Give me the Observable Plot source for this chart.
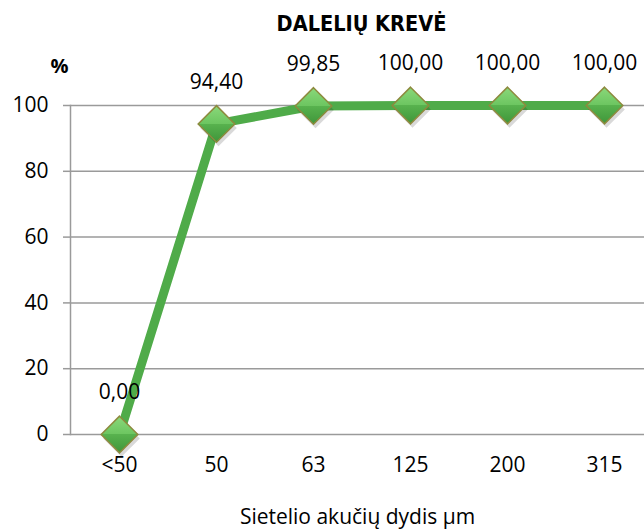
<!DOCTYPE html>
<html>
<head>
<meta charset="utf-8">
<script src="https://cdn.jsdelivr.net/npm/d3@7"></script>
<script src="https://cdn.jsdelivr.net/npm/@observablehq/plot@0.6"></script>
<style>
  body { margin: 0; background: #fff; }
  #chart svg { display: block; }
</style>
</head>
<body>
<div id="chart"></div>
<script>
const categories = ["<50", "50", "63", "125", "200", "315"];
const values = [0, 94.40, 99.85, 100, 100, 100];
const valueLabels = ["0,00", "94,40", "99,85", "100,00", "100,00", "100,00"];
const yTicks = [0, 20, 40, 60, 80, 100];
const title = "DALELIŲ KREVĖ";
const yUnit = "%";
const xTitle = "Sietelio akučių dydis µm";

const data = categories.map((c, i) => ({cat: c, v: values[i], label: valueLabels[i]}));
const font = "'Open Sans', 'DejaVu Sans', sans-serif";

const chart = Plot.plot({
  width: 644,
  height: 530,
  marginTop: 105,
  marginBottom: 96,
  marginLeft: 70,
  marginRight: 0,
  style: {fontFamily: font, fontSize: "21px", color: "#000", background: "#fff"},
  x: {type: "point", domain: categories, range: [70, 652], padding: 0.5, label: null},
  y: {domain: [0, 100], ticks: yTicks, label: null},
  marks: [
    Plot.ruleY(yTicks, {stroke: "#9a9a9a", strokeWidth: 1.5}),
    Plot.frame({anchor: "left", stroke: "#9a9a9a", strokeWidth: 1.5}),
    Plot.axisY({ticks: yTicks, tickSize: 7, tickPadding: 15, stroke: "#9a9a9a", strokeWidth: 1.5, fontSize: 21, label: null}),
    Plot.axisX({tickSize: 0, tickPadding: 23, fontSize: 21, label: null}),
    Plot.line(data, {x: "cat", y: "v", stroke: "#4fab49", strokeWidth: 9, strokeLinejoin: "miter"}),
    Plot.dot(data, {x: "cat", y: "v", symbol: "diamond2", r: 16.5, fill: "rgba(0,0,0,0.15)", stroke: "none", dx: 2, dy: 4}),
    Plot.dot(data, {x: "cat", y: "v", symbol: "diamond2", r: 16.5, fill: "url(#diamGrad)", stroke: "#8d8a3e", strokeWidth: 1.5}),
    Plot.text(data, {x: "cat", y: "v", text: "label", dy: -42, fontSize: 21, fill: "#000"}),
    Plot.text([title], {frameAnchor: "top", lineAnchor: "middle", dx: 4, dy: -81, fontSize: 21.5, fontWeight: "bold", fontFamily: "'Liberation Sans Narrow', 'DejaVu Sans Condensed', sans-serif", fill: "#000"}),
    Plot.text([yUnit], {frameAnchor: "top-left", textAnchor: "middle", lineAnchor: "middle", dx: -11, dy: -39, fontSize: 20, fontWeight: "bold", fill: "#000"}),
    Plot.text([xTitle], {frameAnchor: "bottom", lineAnchor: "middle", dy: 83, fontSize: 21, fill: "#000"})
  ]
});

// gradient for diamond markers
const svgNS = "http://www.w3.org/2000/svg";
const defs = document.createElementNS(svgNS, "defs");
defs.innerHTML = `<linearGradient id="diamGrad" x1="0" y1="0" x2="0" y2="1">
  <stop offset="0" stop-color="#8ad87a"/>
  <stop offset="0.5" stop-color="#6cc560"/>
  <stop offset="0.5" stop-color="#58b24e"/>
  <stop offset="1" stop-color="#3f963a"/>
</linearGradient>`;
chart.insertBefore(defs, chart.firstChild);
document.getElementById("chart").appendChild(chart);
</script>
</body>
</html>
